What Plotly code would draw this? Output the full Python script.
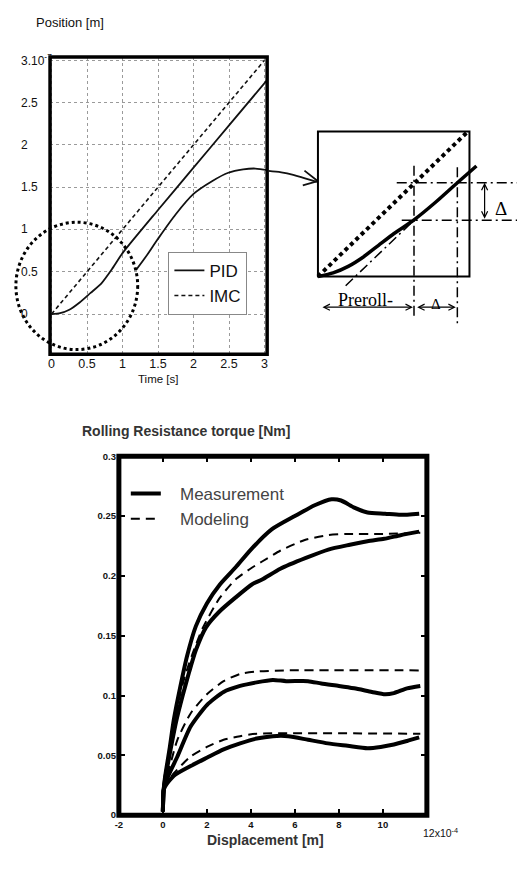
import plotly.graph_objects as go

W, H = 518, 870

# ---------------- top chart: position (x1e-7 m) vs time (s) ----------------
TIME_PID = [0, 0.12, 0.25, 0.4, 0.55, 0.7, 0.85, 1.0, 1.5, 2.0, 2.5, 3.03]
POS_PID = [0, 0.01, 0.05, 0.14, 0.25, 0.36, 0.53, 0.72, 1.23, 1.73, 2.23, 2.76]
TIME_IMC = [0, 3.0]
POS_IMC = [0, 3.0]
TIME_PEAK = [1.19, 1.33, 1.5, 1.75, 2.0, 2.26, 2.49, 2.7, 2.87, 3.05]
POS_PEAK = [0.52, 0.68, 0.89, 1.18, 1.42, 1.57, 1.67, 1.71, 1.72, 1.70]
TOP_XTICKS = [0, 0.5, 1, 1.5, 2, 2.5, 3]
TOP_XTICKTEXT = ["0", "0.5", "1", "1.5", "2", "2.5", "3"]
TOP_YTICKS = [-0.5, 0, 0.5, 1, 1.5, 2, 2.5, 3]
TOP_YTICKTEXT = ["-0.5", "0", "0.5", "1", "1.5", "2", "2.5", "3.10<sup>-7</sup>"]

# ---------------- inset schematic (box = unit square) ----------------
INSET_DOT_U = [0, 0.99]
INSET_DOT_V = [0, 1.0]
INSET_CURVE_U = [0, 0.1, 0.2, 0.3, 0.4, 0.5, 0.634, 0.78, 0.92, 1.046]
INSET_CURVE_V = [0, 0.025, 0.07, 0.135, 0.215, 0.295, 0.39, 0.515, 0.646, 0.762]
TANGENT_U = [0.183, 0.634]
TANGENT_V = [-0.063, 0.388]
VLINE_U = [0.634, 0.92]
VLINE_V0 = [-0.29, -0.324]
VLINE_V1 = [0.764, 0.753]
HLINE_V = [0.646, 0.388]
HLINE_U0 = [0.52, 0.553]
CONN_U = [-0.327, -0.242, -0.163, -0.085, -0.007]
CONN_V = [0.728, 0.718, 0.701, 0.677, 0.653]
HEAD_U = [-0.089, -0.002, -0.1]
HEAD_V = [0.73, 0.658, 0.628]

# ---------------- bottom chart: torque (Nm) vs displacement (x1e-4 m) ----------------
DISP_M1 = [0, 0.03, 0.1, 0.3, 0.5, 0.8, 1.1, 1.5, 2.0, 2.6, 3.3, 4.0, 4.96, 6.0, 6.9, 7.67, 8.1, 8.7, 9.3, 10.1, 10.8, 11.65]
TORQ_M1 = [0.003, 0.02, 0.032, 0.055, 0.08, 0.108, 0.133, 0.158, 0.177, 0.193, 0.207, 0.222, 0.239, 0.25, 0.259, 0.264, 0.263, 0.257, 0.253, 0.252, 0.251, 0.252]
DISP_M2 = [0, 0.03, 0.1, 0.3, 0.6, 0.9, 1.2, 1.5, 1.96, 2.56, 3.31, 4.06, 4.51, 5.34, 6.5, 7.52, 8.5, 9.3, 10.06, 10.8, 11.65]
TORQ_M2 = [0.003, 0.02, 0.03, 0.05, 0.078, 0.1, 0.12, 0.138, 0.157, 0.17, 0.182, 0.193, 0.197, 0.206, 0.215, 0.222, 0.226, 0.229, 0.231, 0.234, 0.237]
DISP_M3 = [0, 0.03, 0.1, 0.3, 0.66, 1.26, 2.0, 2.76, 3.51, 4.26, 5.0, 5.6, 6.6, 7.2, 8.0, 8.7, 9.5, 10.1, 10.5, 11.1, 11.7]
TORQ_M3 = [0.003, 0.02, 0.026, 0.035, 0.049, 0.074, 0.092, 0.103, 0.108, 0.111, 0.113, 0.112, 0.112, 0.11, 0.108, 0.106, 0.103, 0.101, 0.102, 0.106, 0.108]
DISP_M4 = [0, 0.03, 0.1, 0.5, 1.26, 2.0, 2.76, 3.51, 4.26, 5.0, 5.7, 6.6, 7.5, 8.4, 9.3, 9.9, 10.5, 11.1, 11.65]
TORQ_M4 = [0.003, 0.02, 0.024, 0.033, 0.041, 0.048, 0.055, 0.06, 0.064, 0.066, 0.066, 0.063, 0.06, 0.058, 0.056, 0.057, 0.059, 0.062, 0.065]
DISP_D1 = [0, 0.15, 0.3, 0.5, 0.75, 1.0, 1.35, 1.8, 2.56, 3.3, 4.06, 4.51, 5.33, 6.45, 7.5, 8.3, 10.0, 11.7]
TORQ_D1 = [0.022, 0.038, 0.054, 0.075, 0.098, 0.116, 0.135, 0.156, 0.181, 0.197, 0.207, 0.212, 0.221, 0.23, 0.234, 0.235, 0.235, 0.236]
DISP_D2 = [0, 0.3, 0.66, 1.26, 2.0, 2.76, 3.51, 4.26, 5.5, 11.7]
TORQ_D2 = [0.022, 0.04, 0.063, 0.085, 0.101, 0.112, 0.118, 0.12, 0.121, 0.121]
DISP_D3 = [0, 0.5, 1.26, 2.0, 2.76, 3.51, 4.26, 11.7]
TORQ_D3 = [0.022, 0.035, 0.049, 0.057, 0.063, 0.066, 0.068, 0.068]
BOT_XTICKS = [-2, 0, 2, 4, 6, 8, 10]
BOT_XTICKTEXT = ["-2", "0", "2", "4", "6", "8", "10"]
BOT_YTICKS = [0, 0.05, 0.1, 0.15, 0.2, 0.25, 0.3]
BOT_YTICKTEXT = ["0", "0.05", "0.1", "0.15", "0.2", "0.25", "0.3"]

SANS = "Liberation Sans, Arial, sans-serif"
SERIF = "Liberation Serif, Times New Roman, serif"
NB = "\u00a0"


def xdom(a, b):
    return [a / W, b / W]


def ydom(top, bottom):
    return [1 - bottom / H, 1 - top / H]


fig = go.Figure()

# top chart traces
fig.add_trace(go.Scatter(x=TIME_PID, y=POS_PID, mode="lines", name="PID",
                         line=dict(color="#111", width=1.8, shape="spline", smoothing=0.6),
                         xaxis="x", yaxis="y", legend="legend"))
fig.add_trace(go.Scatter(x=TIME_IMC, y=POS_IMC, mode="lines", name="IMC",
                         line=dict(color="#111", width=1.6, dash="4px,3px"),
                         xaxis="x", yaxis="y", legend="legend"))
fig.add_trace(go.Scatter(x=TIME_PEAK, y=POS_PEAK, mode="lines", showlegend=False,
                         line=dict(color="#111", width=1.8, shape="spline", smoothing=0.8),
                         xaxis="x", yaxis="y"))

# inset traces
fig.add_trace(go.Scatter(x=INSET_DOT_U, y=INSET_DOT_V, mode="lines", showlegend=False,
                         line=dict(color="#000", width=4, dash="4px,3.5px"), xaxis="x3", yaxis="y3"))
fig.add_trace(go.Scatter(x=INSET_CURVE_U, y=INSET_CURVE_V, mode="lines", showlegend=False,
                         line=dict(color="#000", width=3.5, shape="spline", smoothing=0.6),
                         xaxis="x3", yaxis="y3"))
DASHDOT = "10px,4px,2px,4px"
fig.add_trace(go.Scatter(x=TANGENT_U, y=TANGENT_V, mode="lines", showlegend=False,
                         line=dict(color="#000", width=1.5, dash=DASHDOT), xaxis="x3", yaxis="y3"))
for u, v0, v1 in zip(VLINE_U, VLINE_V0, VLINE_V1):
    fig.add_trace(go.Scatter(x=[u, u], y=[v1, v0], mode="lines", showlegend=False,
                             line=dict(color="#000", width=1.5, dash=DASHDOT), xaxis="x3", yaxis="y3"))
for v, u0 in zip(HLINE_V, HLINE_U0):
    fig.add_trace(go.Scatter(x=[u0, 1.32], y=[v, v], mode="lines", showlegend=False,
                             line=dict(color="#000", width=1.5, dash=DASHDOT), xaxis="x3", yaxis="y3"))
fig.add_trace(go.Scatter(x=CONN_U, y=CONN_V, mode="lines", showlegend=False,
                         line=dict(color="#111", width=1.8, shape="spline"), xaxis="x3", yaxis="y3"))
fig.add_trace(go.Scatter(x=HEAD_U, y=HEAD_V, mode="lines", showlegend=False,
                         line=dict(color="#111", width=1.8), xaxis="x3", yaxis="y3"))

# bottom chart traces
for i, (xs, ys) in enumerate([(DISP_M1, TORQ_M1), (DISP_M2, TORQ_M2), (DISP_M3, TORQ_M3), (DISP_M4, TORQ_M4)]):
    fig.add_trace(go.Scatter(x=xs, y=ys, mode="lines", name=NB * 3 + "Measurement", showlegend=(i == 0),
                             line=dict(color="#000", width=4, shape="spline", smoothing=0.6),
                             xaxis="x2", yaxis="y2", legend="legend2"))
for i, (xs, ys) in enumerate([(DISP_D1, TORQ_D1), (DISP_D2, TORQ_D2), (DISP_D3, TORQ_D3)]):
    fig.add_trace(go.Scatter(x=xs, y=ys, mode="lines", name=NB * 3 + "Modeling", showlegend=(i == 0),
                             line=dict(color="#000", width=2, dash="9px,6px", shape="spline", smoothing=0.6),
                             xaxis="x2", yaxis="y2", legend="legend2"))

grid = dict(showgrid=True, gridcolor="#9a9a9a", gridwidth=1, griddash="dot", zeroline=False, showline=False)

u_lo, u_hi = (267 - 317) / 153, (518 - 317) / 153
v_lo, v_hi = (274 - 330) / 147, (274 - 120) / 147

fig.update_layout(
    width=W, height=H, margin=dict(l=0, r=0, t=0, b=0),
    paper_bgcolor="white", plot_bgcolor="rgba(0,0,0,0)",
    xaxis=dict(domain=xdom(46.5, 265.7), range=[-0.021, 3.037], tickvals=TOP_XTICKS, ticktext=TOP_XTICKTEXT,
               ticks="", tickfont=dict(family=SANS, size=12.5, color="#111"), anchor="y", **grid),
    yaxis=dict(domain=ydom(51.7, 352.7), range=[-0.475, 3.038], tickvals=TOP_YTICKS, showticklabels=False,
               ticks="", anchor="x", **grid),
    xaxis2=dict(domain=xdom(116, 427), range=[-2, 12], tickvals=BOT_XTICKS, ticktext=BOT_XTICKTEXT,
                ticks="inside", ticklen=6, tickwidth=1.5, tickcolor="#000", showline=True, linecolor="#000",
                linewidth=1, mirror="ticks", showgrid=False, zeroline=False, anchor="y2",
                tickfont=dict(family=SANS, size=9.5, color="#111", weight="bold")),
    yaxis2=dict(domain=ydom(456, 819.5), range=[0, 0.3], tickvals=BOT_YTICKS, ticktext=BOT_YTICKTEXT,
                ticks="inside", ticklen=6, tickwidth=1.5, tickcolor="#000", showline=True, linecolor="#000",
                linewidth=1, mirror="ticks", showgrid=False, zeroline=False, anchor="x2",
                tickfont=dict(family=SANS, size=9.5, color="#111", weight="bold")),
    xaxis3=dict(domain=xdom(267, 518), range=[u_lo, u_hi], visible=False, anchor="y3"),
    yaxis3=dict(domain=ydom(120, 330), range=[v_lo, v_hi], visible=False, anchor="x3"),
    legend=dict(x=166 / W, y=1 - 249 / H, xanchor="left", yanchor="top", bgcolor="white",
                bordercolor="#888", borderwidth=1, font=dict(family=SANS, size=17, color="#111"),
                tracegroupgap=0),
    legend2=dict(x=123 / W, y=1 - 476 / H, xanchor="left", yanchor="top", bgcolor="rgba(0,0,0,0)",
                 borderwidth=0, font=dict(family=SANS, size=17, color="#444"), tracegroupgap=0),
    showlegend=True,
)

shapes = [
    dict(type="rect", xref="x domain", yref="y domain", x0=0, x1=1, y0=0, y1=1,
         line=dict(color="#000", width=3.5), layer="above"),
    dict(type="rect", xref="x2 domain", yref="y2 domain", x0=0, x1=1, y0=0, y1=1,
         line=dict(color="#000", width=5), layer="above"),
    dict(type="rect", xref="x3", yref="y3", x0=0, x1=1, y0=0, y1=1,
         line=dict(color="#000", width=2), layer="above"),
    dict(type="circle", xref="paper", yref="paper", x0=12 / W, x1=135 / W, y0=1 - 348 / H, y1=1 - 219 / H,
         line=dict(color="#000", width=3, dash="3px,3px"), layer="above"),
]
fig.update_layout(shapes=shapes)


def ptext(text, px, py, size, xanchor="center", family=SANS, color="#111", weight="normal"):
    return dict(text=text, x=px / W, y=1 - py / H, xref="paper", yref="paper", xanchor=xanchor,
                yanchor="middle", showarrow=False, font=dict(family=family, size=size, color=color, weight=weight))


ann = []
ann.append(ptext("Position [m]", 30, 17, 13, xanchor="left"))
for v, t in zip(TOP_YTICKS, TOP_YTICKTEXT):
    ann.append(dict(text=t, x=(11.7 if t.startswith("-") else 15) / W, y=v, xref="paper", yref="y",
                    xanchor="left", yanchor="middle", showarrow=False, yshift=6 if v < -0.475 else 0,
                    font=dict(family=SANS, size=12, color="#111")))
ann.append(ptext("Time [s]", 155, 378, 11.5))
ann.append(ptext("Rolling Resistance torque [Nm]", 77, 430, 14, xanchor="left", color="#333", weight="bold"))
ann.append(ptext("Displacement [m]", 264.5, 845, 14, color="#333", weight="bold"))
ann.append(dict(text="12x10<sup>-4</sup>", x=12, xref="x2", xanchor="left", xshift=-6, y=1 - 837 / H,
                yref="paper", yanchor="middle", showarrow=False, font=dict(family=SANS, size=10.5, color="#111")))
# inset labels
ann.append(dict(text="Preroll-", x=0.314, y=-0.163, xref="x3", yref="y3", xanchor="center", yanchor="middle",
                showarrow=False, font=dict(family=SERIF, size=18, color="#000")))
ann.append(dict(text="Δ", x=1.209, y=0.469, xref="x3", yref="y3", xanchor="center", yanchor="middle",
                showarrow=False, font=dict(family=SERIF, size=19, color="#000")))
ann.append(dict(text="Δ", x=0.78, y=-0.19, xref="x3", yref="y3", xanchor="center", yanchor="middle",
                showarrow=False, font=dict(family=SERIF, size=15, color="#000")))
# double arrows
for (x0, y0, x1, y1) in [(0.02, -0.211, 0.627, -0.211), (0.645, -0.211, 0.91, -0.211), (1.10, 0.388, 1.10, 0.646)]:
    ann.append(dict(text="", x=x1, y=y1, ax=x0, ay=y0, xref="x3", yref="y3", axref="x3", ayref="y3",
                    showarrow=True, arrowhead=5, startarrowhead=5, arrowside="end+start", arrowsize=1,
                    arrowwidth=1.2, arrowcolor="#000", standoff=0, startstandoff=0))
fig.update_layout(annotations=ann)

fig.write_html("out.html")
